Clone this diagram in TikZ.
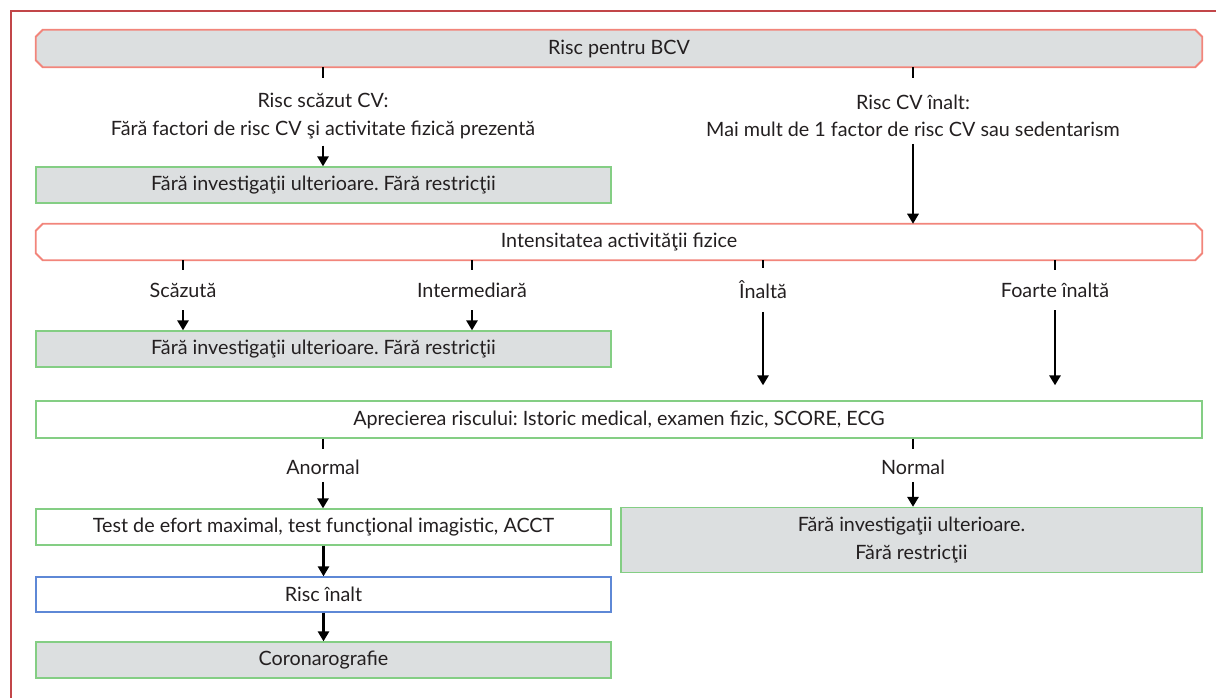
\documentclass[tikz,border=0pt]{standalone}
\usepackage{fontspec}
\setmainfont{Lato}
\usetikzlibrary{arrows.meta,backgrounds,calc}

\definecolor{framered}{HTML}{C24649}
\definecolor{chamred}{HTML}{F2857B}
\definecolor{boxgray}{HTML}{DCDFE0}
\definecolor{boxgreen}{HTML}{84CE84}
\definecolor{boxblue}{HTML}{5E88D6}
\definecolor{ink}{HTML}{231F20}

% octagonal (chamfered) outline behind a named node
\newcommand\chamferframe[2]{%
  \begin{scope}[on background layer]
    \filldraw[draw=chamred, line width=1.4pt, fill=#2]
      ($(#1.north west)+(7,0)$) -- ($(#1.north east)+(-7,0)$) --
      ($(#1.north east)+(0,7)$) -- ($(#1.south east)+(0,-7)$) --
      ($(#1.south east)+(-7,0)$) -- ($(#1.south west)+(7,0)$) --
      ($(#1.south west)+(0,-7)$) -- ($(#1.north west)+(0,7)$) -- cycle;
  \end{scope}}

\begin{document}
\frenchspacing
\begin{tikzpicture}[x=0.75pt, y=-0.75pt,
  txt/.style={font=\fontsize{14.8}{20.5}\selectfont, text=ink, align=center},
  lbl/.style={txt, inner xsep=2pt, inner ysep=5pt},
  lbltwo/.style={txt, inner xsep=2pt, inner ysep=9.5pt},
  box/.style={txt, draw, line width=1.1pt, inner sep=0pt, minimum height=27pt},
  graybox/.style={box, draw=boxgreen, fill=boxgray},
  greenbox/.style={box, draw=boxgreen, fill=white},
  bluebox/.style={box, draw=boxblue, fill=white},
  chambox/.style={txt, inner sep=0pt, minimum height=27pt},
  arr/.style={-{Triangle[length=7.5pt,width=8.5pt]}, line width=1.6pt, black},
  tick/.style={line width=1.6pt, black}]

\useasboundingbox (0,0) rectangle (1216,697);

% page frame
\draw[framered, line width=2.2pt] (11,700) -- (11,11) -- (1220,11);

% first level
\node[chambox, minimum width=874.5pt, minimum height=27.75pt] (bcv) at (619,48.5) {Risc pentru BCV};
\chamferframe{bcv}{boxgray}

\node[lbl] (low) at (323,116) {Risc scăzut CV:\\Fără factori de risc CV şi activitate fizică prezentă};
\node[lbl] (high) at (913,116) {Risc CV înalt:\\Mai mult de 1 factor de risc CV sau sedentarism};

\node[graybox, minimum width=431.25pt] (nf1) at (323.5,185) {Fără investigaţii ulterioare. Fără restricţii};

% intensity level
\node[chambox, minimum width=874.5pt] (int) at (619,242) {Intensitatea activităţii fizice};
\chamferframe{int}{white}

\node[lbltwo] (sc) at (183,290) {Scăzută};
\node[lbltwo] (im) at (472,290) {Intermediară};
\node[lbltwo] (in) at (763,290) {Înaltă};
\node[lbltwo] (fi) at (1055,290) {Foarte înaltă};

\node[graybox, minimum width=431.25pt] (nf2) at (323.5,349) {Fără investigaţii ulterioare. Fără restricţii};

% risk assessment
\node[greenbox, minimum width=874.5pt, minimum height=27.75pt] (apr) at (619,419.5) {Aprecierea riscului: Istoric medical, examen fizic, SCORE, ECG};

\node[lbl] (abn) at (323,467.5) {Anormal};
\node[lbl] (nor) at (913,467.5) {Normal};

\node[greenbox, minimum width=431.25pt] (test) at (323.5,527) {Test de efort maximal, test funcţional imagistic, ACCT};
\node[graybox, minimum width=435.75pt, minimum height=48.75pt] (nf3) at (911.5,540) {Fără investigaţii ulterioare.\\Fără restricţii};
\node[bluebox, minimum width=431.25pt, minimum height=26.25pt] (hr) at (323.5,594.5) {Risc înalt};
\node[graybox, minimum width=431.25pt] (cor) at (323.5,660) {Coronarografie};

% connectors
\draw[tick] (bcv.south -| low) -- ++(0,11);
\draw[tick] (bcv.south -| high) -- ++(0,11);
\draw[arr] (low.south) -- (nf1.north -| low);
\draw[arr] (high.south) -- (int.north -| high);

\draw[tick] (int.south -| sc) -- (sc.north);
\draw[tick] (int.south -| im) -- (im.north);
\draw[tick] (int.south -| in) -- (in.north);
\draw[tick] (int.south -| fi) -- (fi.north);
\draw[arr] (sc.south) -- (nf2.north -| sc);
\draw[arr] (im.south) -- (nf2.north -| im);
\coordinate (inEnd) at ($(apr.north -| in)+(0,-15)$);
\coordinate (fiEnd) at ($(apr.north -| fi)+(0,-15)$);
\draw[arr] (in.south) -- (inEnd);
\draw[arr] (fi.south) -- (fiEnd);

\draw[tick] (apr.south -| abn) -- ++(0,10);
\draw[tick] (apr.south -| nor) -- ++(0,10);
\draw[arr] (abn.south) -- (test.north -| abn);
\draw[arr] (nor.south) -- (nf3.north -| nor);
\draw[arr] (test.south) -- (hr.north);
\draw[arr] (hr.south) -- (cor.north);

\end{tikzpicture}
\end{document}
